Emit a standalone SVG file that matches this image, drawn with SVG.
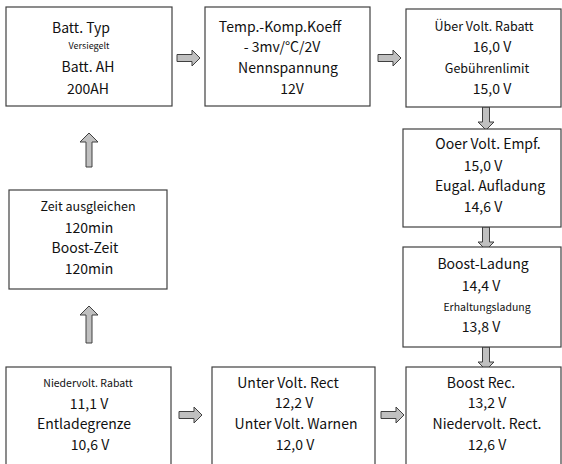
<svg xmlns="http://www.w3.org/2000/svg" width="562" height="464" viewBox="0 0 562 464">
<style>
.box{fill:#fff;stroke:#404040;stroke-width:1.2}
.arr{fill:#c0c0c0;stroke:#404040;stroke-width:1}
text{font-family:"Noto Sans CJK SC","Noto Sans",sans-serif;fill:#111;text-anchor:middle}
.l{font-size:14px}
.m{font-size:12.5px}
.s{font-size:10.5px}
.xs{font-size:9px}
</style>
<defs>
<path id="ar" class="arr" d="M0,-3.5 H15 V-8 L23,0 L15,8 V3.5 H0 Z"/>
</defs>
<rect width="562" height="464" fill="#fff"/>
<g id="connectors">
<use href="#ar" x="177" y="58"/>
<use href="#ar" x="378" y="58"/>
<use href="#ar" transform="translate(486,107) rotate(90)"/>
<use href="#ar" transform="translate(486,227) rotate(90)"/>
<use href="#ar" transform="translate(486,347) rotate(90)"/>
<path class="arr" d="M86,167 V142 H80 L89,133 L98,142 H92 V167 Z"/>
<path class="arr" d="M86,343 V315 H80 L89,306 L98,315 H92 V343 Z"/>
<use href="#ar" x="179" y="415"/>
<use href="#ar" x="381" y="415"/>
</g>
<g id="n1">
<rect class="box" x="6" y="7" width="166" height="99"/>
<text class="l" x="81" y="33">Batt. Typ</text>
<text class="xs" x="89" y="49">Versiegelt</text>
<text class="l" x="88" y="72">Batt. AH</text>
<text class="l" x="88" y="94">200AH</text>
</g>
<g id="n2">
<rect class="box" x="205" y="7" width="165" height="99"/>
<text class="l" x="280" y="32">Temp.-Komp.Koeff</text>
<text class="l" x="282" y="52">- 3mv/°C/2V</text>
<text class="l" x="288" y="73">Nennspannung</text>
<text class="l" x="292" y="94">12V</text>
</g>
<g id="n3">
<rect class="box" x="406" y="9" width="155" height="98"/>
<text class="m" x="484" y="31">Über Volt. Rabatt</text>
<text class="l" x="492" y="52">16,0 V</text>
<text class="m" x="487" y="73">Gebührenlimit</text>
<text class="l" x="492" y="94">15,0 V</text>
</g>
<g id="n4">
<rect class="box" x="403" y="129" width="158" height="98"/>
<text class="l" x="488" y="149">Ooer Volt. Empf.</text>
<text class="l" x="483" y="171">15,0 V</text>
<text class="l" x="490" y="191">Eugal. Aufladung</text>
<text class="l" x="483" y="212">14,6 V</text>
</g>
<g id="n5">
<rect class="box" x="403" y="247" width="158" height="100"/>
<text class="l" x="483" y="269">Boost-Ladung</text>
<text class="l" x="481" y="291">14,4 V</text>
<text class="s" x="487" y="311">Erhaltungsladung</text>
<text class="l" x="481" y="332">13,8 V</text>
</g>
<g id="n6">
<rect class="box" x="406" y="367" width="155" height="105"/>
<text class="l" x="481" y="388">Boost Rec.</text>
<text class="l" x="487" y="408">13,2 V</text>
<text class="l" x="487" y="429">Niedervolt. Rect.</text>
<text class="l" x="487" y="450">12,6 V</text>
</g>
<g id="n7">
<rect class="box" x="9" y="190" width="158" height="99"/>
<text class="m" x="88" y="211">Zeit ausgleichen</text>
<text class="l" x="89" y="233">120min</text>
<text class="l" x="85" y="253">Boost-Zeit</text>
<text class="l" x="89" y="274">120min</text>
</g>
<g id="n8">
<rect class="box" x="6" y="367" width="165" height="105"/>
<text class="s" x="88" y="387">Niedervolt. Rabatt</text>
<text class="l" x="89" y="409">11,1 V</text>
<text class="l" x="84" y="429">Entladegrenze</text>
<text class="l" x="90" y="450">10,6 V</text>
</g>
<g id="n9">
<rect class="box" x="212" y="367" width="163" height="105"/>
<text class="l" x="288" y="388">Unter Volt. Rect</text>
<text class="l" x="294" y="408">12,2 V</text>
<text class="l" x="296" y="429">Unter Volt. Warnen</text>
<text class="l" x="295" y="450">12,0 V</text>
</g>
</svg>
